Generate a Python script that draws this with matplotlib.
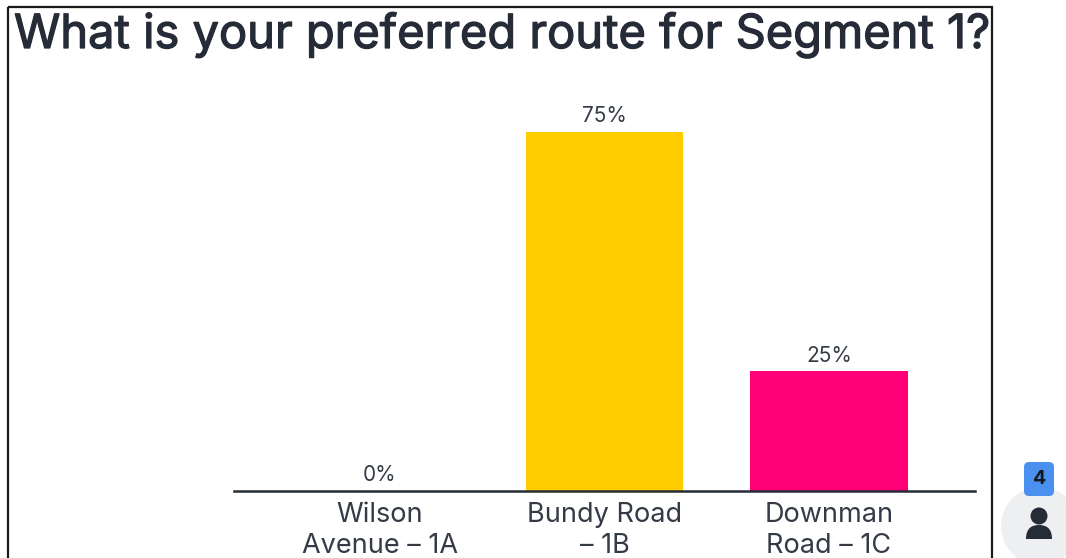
import matplotlib
matplotlib.use("Agg")
import matplotlib.pyplot as plt
import matplotlib.patheffects as pe
from matplotlib.path import Path
from matplotlib.patches import Circle, FancyBboxPatch, Rectangle, PathPatch

categories = ["Wilson\nAvenue – 1A", "Bundy Road\n– 1B", "Downman\nRoad – 1C"]
values = [0, 75, 25]
colors = ["#5f6bf0", "#ffcc00", "#ff0077"]
title = "What is your preferred route for Segment 1?"
badge = "4"
INK = "#252b37"

W, H = 1066, 558
plt.rcParams["font.family"] = ["Inter", "DejaVu Sans"]
fig = plt.figure(figsize=(W / 100, H / 100), dpi=100, facecolor="white")

# pixel overlay for the frame, the title and the participant badge
ov = fig.add_axes([0, 0, 1, 1], zorder=0)
ov.set_xlim(0, W)
ov.set_ylim(H, 0)
ov.axis("off")
ov.add_patch(Rectangle((8, 7), 984, 570, fill=False, ec="#1a1a1a", lw=1.6))
ov.text(14, 48, title, fontsize=33.85, color=INK, va="baseline", ha="left",
        path_effects=[pe.withStroke(linewidth=0.9, foreground=INK)])
ov.add_patch(Circle((1040, 526), 39, fc="#eeeff1", ec="none"))
ov.add_patch(FancyBboxPatch((1027, 465), 24, 28, boxstyle="round,pad=3,rounding_size=5", fc="#4a90ee", ec="none"))
ov.text(1039.5, 479, badge, fontsize=14, fontweight="bold", color="#14181f", ha="center", va="center")
ov.add_patch(Circle((1039, 516), 8.5, fc=INK, ec="none"))
body = Path([(1026, 539), (1026, 528), (1032, 525), (1039, 525), (1046, 525), (1052, 528), (1052, 539), (1026, 539)],
            [Path.MOVETO, Path.CURVE4, Path.CURVE4, Path.CURVE4, Path.CURVE4, Path.CURVE4, Path.CURVE4, Path.CLOSEPOLY])
ov.add_patch(PathPatch(body, fc=INK, ec="none"))

# the chart
ax = fig.add_axes([234 / W, (H - 491) / H, 741 / W, 479 / H], zorder=1)
ax.patch.set_alpha(0)
x = list(range(len(categories)))
bars = ax.bar(x, values, width=0.70, color=colors)
ax.set_xlim(-0.65, 2.65)
ax.set_ylim(0, 100)
for s in ["top", "left", "right"]:
    ax.spines[s].set_visible(False)
ax.spines["bottom"].set_color(INK)
ax.spines["bottom"].set_linewidth(1.8)
ax.set_yticks([])
ax.set_xticks(x, categories, fontsize=19.5, color="#343a46", linespacing=1.22)
ax.tick_params(axis="x", length=0, pad=8)
for xi, v in zip(x, values):
    ax.annotate(f"{v}%", (xi, v), xytext=(0, 4), textcoords="offset points",
                ha="center", va="bottom", fontsize=15, color="#343a46")

fig.savefig("out.png", dpi=100, facecolor="white")
